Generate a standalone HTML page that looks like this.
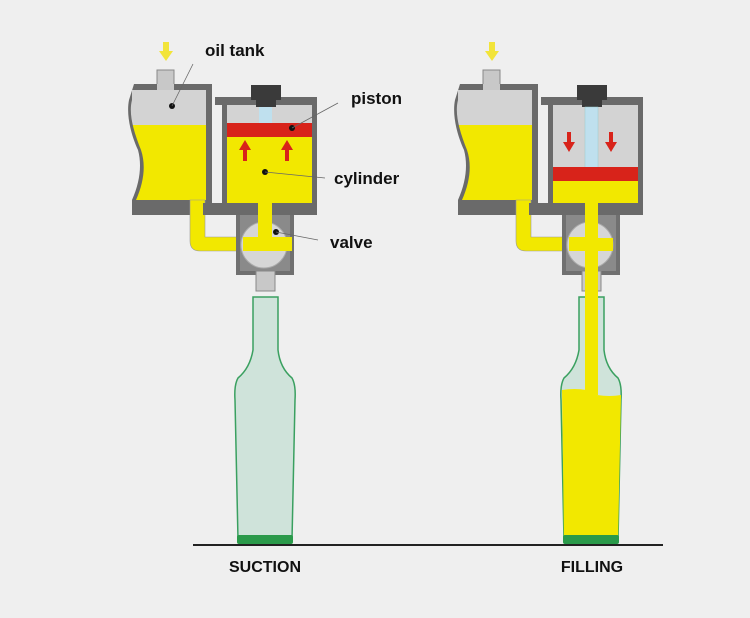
<!DOCTYPE html>
<html><head><style>
html,body{margin:0;padding:0;background:#efefef;}
svg{display:block;}
text{font-family:"Liberation Sans",Arial,sans-serif;font-weight:bold;fill:#111;}
</style></head><body>
<svg width="750" height="618" viewBox="0 0 750 618" xmlns="http://www.w3.org/2000/svg">
<rect width="750" height="618" fill="#efefef"/>
<defs>
<clipPath id="tin"><path d="M132,90 L206,90 L206,200 L136,200 C144,182 146,165 141,150 C135,135 128,115 132,100 Z"/></clipPath>
<g id="tank">
  <rect x="163" y="42" width="6" height="11" fill="#f2e43a"/>
  <polygon points="159,51 173,51 166,61" fill="#f2e43a"/>
  <rect x="157" y="70" width="17" height="18" fill="#c8c8c8" stroke="#888" stroke-width="1"/>
  <path d="M134,84 L212,84 L212,215 L132,215 L132,200 C140,182 142,165 138,150 C131,135 126,115 129,100 Z" fill="#6a6a6a"/>
  <rect x="157" y="84" width="17" height="6" fill="#c8c8c8"/>
  <g clip-path="url(#tin)">
    <rect x="120" y="90" width="90" height="35" fill="#d3d3d3"/>
    <rect x="120" y="125" width="90" height="75" fill="#f2e800"/>
  </g>
  <path d="M190,200 L205,200 L205,237 L292,237 L292,251 L200,251 Q190,251 190,241 Z" fill="#f2e800" stroke="#999" stroke-width="0.6"/>
  <rect x="215" y="97" width="102" height="8" fill="#6a6a6a"/>
  <rect x="222" y="103" width="5" height="110" fill="#6a6a6a"/>
  <rect x="312" y="103" width="5" height="110" fill="#6a6a6a"/>
  <rect x="203" y="203" width="114" height="12" fill="#6a6a6a"/>
  <rect x="227" y="105" width="85" height="98" fill="#d3d3d3"/>
  <rect x="251" y="85" width="30" height="15" fill="#3a3a3a"/>
  <rect x="256" y="98" width="20" height="9" fill="#3a3a3a"/>
  <rect x="236" y="215" width="58" height="60" fill="#707070"/>
  <rect x="240" y="215" width="50" height="56" fill="#8a8a8a"/>
  <circle cx="264" cy="245" r="23" fill="#d6d6d6" stroke="#aaa"/>
  <rect x="256" y="271" width="19" height="20" fill="#c8c8c8" stroke="#888" stroke-width="1"/>
</g>
</defs>

<use href="#tank"/>
<rect x="259" y="107" width="13" height="16" fill="#bfe0ee"/>
<rect x="227" y="123" width="85" height="14" fill="#d8231a"/>
<rect x="227" y="137" width="85" height="66" fill="#f2e800"/>
<rect x="243" y="149" width="4" height="12" fill="#d8231a"/><polygon points="239,150 251,150 245,140" fill="#d8231a"/>
<rect x="285" y="149" width="4" height="12" fill="#d8231a"/><polygon points="281,150 293,150 287,140" fill="#d8231a"/>
<path d="M258,203 L272,203 L272,242 Q265,248 258,242 Z" fill="#f2e800"/>
<rect x="243" y="237" width="49" height="14" fill="#f2e800"/>
<circle cx="172" cy="106" r="3" fill="#111"/><line x1="172" y1="106" x2="193" y2="64" stroke="#666" stroke-width="0.8"/>
<circle cx="292" cy="128" r="3" fill="#111"/><line x1="292" y1="128" x2="338" y2="103" stroke="#666" stroke-width="0.8"/>
<circle cx="265" cy="172" r="3" fill="#111"/><line x1="265" y1="172" x2="325" y2="178" stroke="#666" stroke-width="0.8"/>
<circle cx="276" cy="232" r="3" fill="#111"/><line x1="276" y1="232" x2="318" y2="240" stroke="#666" stroke-width="0.8"/>
<text x="205" y="56" font-size="17">oil tank</text>
<text x="351" y="104" font-size="17">piston</text>
<text x="334" y="184" font-size="17">cylinder</text>
<text x="330" y="248" font-size="17">valve</text>

<path d="M253,297 L278,297 L278,350 Q280,368 292,378 Q296,385 295,400 L292,540 L238,540 L235,400 Q234,385 238,378 Q250,368 253,350 Z" fill="#cfe3da" stroke="#3aa060" stroke-width="1.5"/>
<rect x="237" y="535" width="56" height="9" rx="2" fill="#2a9a4a"/>

<g transform="translate(326,0)"><use href="#tank"/></g>
<rect x="585" y="107" width="13" height="62" fill="#bfe0ee" stroke="#9cc" stroke-width="0.5"/>
<rect x="553" y="167" width="85" height="14" fill="#d8231a"/>
<rect x="553" y="181" width="85" height="22" fill="#f2e800"/>
<rect x="567" y="132" width="4" height="12" fill="#d8231a"/><polygon points="563,142 575,142 569,152" fill="#d8231a"/>
<rect x="609" y="132" width="4" height="12" fill="#d8231a"/><polygon points="605,142 617,142 611,152" fill="#d8231a"/>
<rect x="569" y="237" width="17" height="14" fill="#f2e800"/>
<rect x="597" y="238" width="16" height="13" fill="#f2e800"/>
<path d="M579,297 L604,297 L604,350 Q606,368 618,378 Q622,385 621,400 L618,540 L564,540 L561,400 Q560,385 564,378 Q576,368 579,350 Z" fill="#cfe3da" stroke="#3aa060" stroke-width="1.5"/>
<path d="M562,390 Q575,388 586,390 L597,395 Q610,397 621,395 L618,540 L564,540 Z" fill="#f2e800"/>
<rect x="563" y="535" width="56" height="9" rx="2" fill="#2a9a4a"/>
<rect x="585" y="203" width="13" height="192" fill="#f2e800"/>

<rect x="193" y="544" width="470" height="2" fill="#222"/>
<text x="265" y="572" font-size="16" text-anchor="middle">SUCTION</text>
<text x="592" y="572" font-size="16" text-anchor="middle">FILLING</text>
</svg>
</body></html>
